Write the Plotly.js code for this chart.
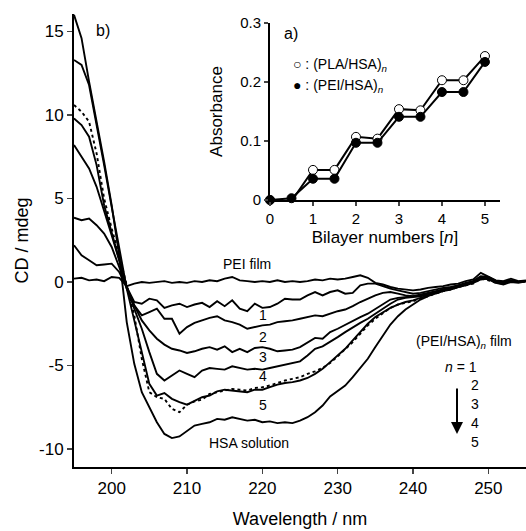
<!DOCTYPE html>
<html>
<head>
<meta charset="utf-8">
<script src="https://cdn.plot.ly/plotly-3.0.1.min.js"></script>
<style>html,body{margin:0;padding:0;background:#fff;}#chart{width:526px;height:531px;}</style>
</head>
<body>
<div id="chart"></div>
<script>
// ---- Main CD spectra (b) ----
const wavelength = [195,196,197,198,199,200,201,202,203,204,205,206,207,208,209,210,211,212,213,214,215,216,217,218,219,220,221,222,223,224,225,226,227,228,229,230,231,232,233,234,235,236,237,238,239,240,241,242,243,244,245,246,247,248,249,250,251,252,253,254,255];

const cdPEIfilm = [0.2,0.25,0.1,0.15,0.05,0.3,0.25,-0.25,-0.1,0.0,-0.05,0.0,0.05,-0.05,0.0,-0.05,0.05,0.0,0.1,0.05,0.2,0.3,0.1,0.05,0.0,0.05,0.0,0.1,0.0,0.05,0.0,0.05,0.15,0.1,0.2,0.15,0.2,0.3,0.4,0.25,-0.05,-0.15,-0.3,-0.4,-0.45,-0.5,-0.45,-0.35,-0.3,-0.25,-0.15,-0.1,0.05,0.15,0.55,0.3,0.1,0.05,0.2,0.05,0.1];

const cdN1 = [2.2,1.6,1.3,1.0,1.05,1.1,0.6,-0.3,-1.2,-1.3,-1.0,-1.1,-1.55,-1.4,-1.3,-1.5,-1.35,-1.25,-1.5,-1.15,-1.45,-1.1,-1.6,-1.75,-1.3,-1.55,-1.5,-1.3,-1.0,-1.05,-1.05,-0.8,-0.6,-0.8,-0.6,-0.5,-0.7,-0.65,-0.2,-0.1,-0.1,-0.25,-0.4,-0.5,-0.6,-0.7,-0.65,-0.55,-0.45,-0.35,-0.3,-0.2,-0.05,0.05,0.35,0.3,0.05,0.0,0.1,0.0,0.05];

const cdN2 = [3.85,3.7,3.8,3.4,2.9,2.1,0.9,-0.4,-1.4,-2.0,-1.8,-1.6,-2.2,-2.2,-3.1,-2.7,-2.45,-2.3,-2.15,-2.05,-2.3,-2.4,-2.55,-2.8,-2.7,-2.6,-2.55,-2.4,-2.35,-2.3,-2.2,-2.1,-2.0,-2.05,-1.9,-1.75,-1.65,-1.45,-1.2,-1.0,-0.8,-0.65,-0.6,-0.7,-0.8,-0.85,-0.75,-0.65,-0.55,-0.45,-0.35,-0.2,-0.1,0.05,0.3,0.25,0.05,-0.05,0.05,0.0,0.05];

const cdN3 = [8.2,7.5,6.8,5.7,4.3,2.8,1.3,-0.3,-1.4,-2.3,-2.9,-3.4,-3.75,-4.0,-4.1,-4.25,-4.15,-4.0,-3.9,-4.05,-3.85,-4.2,-4.0,-4.2,-3.95,-3.9,-4.0,-4.15,-4.1,-4.05,-3.9,-3.6,-3.35,-3.4,-3.0,-2.8,-2.55,-2.35,-2.1,-1.9,-1.6,-1.3,-1.05,-0.95,-0.9,-0.85,-0.8,-0.7,-0.6,-0.45,-0.35,-0.25,-0.1,0.0,0.25,0.2,0.05,-0.05,0.05,0.0,0.05];

const cdN4 = [9.8,9.4,8.7,7.0,4.6,3.0,1.4,-0.3,-1.6,-2.8,-4.2,-5.5,-5.9,-5.6,-5.3,-5.5,-5.7,-5.3,-5.15,-5.2,-5.25,-5.05,-5.15,-5.25,-5.2,-5.25,-5.15,-5.05,-4.95,-4.85,-4.75,-4.4,-4.0,-3.85,-3.6,-3.3,-3.0,-2.7,-2.45,-2.2,-1.9,-1.55,-1.3,-1.05,-0.95,-0.9,-0.85,-0.75,-0.6,-0.5,-0.4,-0.3,-0.15,0.0,0.25,0.2,0.0,-0.1,0.05,0.0,0.05];

const cdN5 = [13.3,13.0,11.8,9.5,7.0,4.5,2.0,-0.4,-2.3,-4.2,-6.1,-6.8,-6.65,-7.0,-7.2,-7.35,-7.1,-6.9,-6.8,-6.55,-6.45,-6.5,-6.55,-6.6,-6.45,-6.45,-6.3,-6.15,-6.05,-6.0,-5.9,-5.75,-5.5,-5.2,-4.8,-4.4,-4.0,-3.5,-3.0,-2.5,-2.1,-1.8,-1.55,-1.35,-1.2,-1.1,-0.95,-0.8,-0.7,-0.55,-0.45,-0.3,-0.2,-0.05,0.3,0.15,-0.05,-0.15,0.0,-0.05,0.05];

const cdDotted = [10.6,10.2,9.6,7.7,5.0,3.2,1.6,-0.2,-2.0,-4.6,-6.6,-6.9,-7.0,-7.6,-7.8,-7.35,-7.15,-7.05,-6.7,-6.6,-6.5,-6.4,-6.45,-6.5,-6.35,-6.3,-6.2,-6.05,-5.9,-5.8,-5.7,-5.5,-5.35,-5.15,-4.85,-4.45,-4.05,-3.6,-3.1,-2.6,-2.2,-1.85,-1.55,-1.35,-1.25,-1.15,-1.0,-0.85,-0.7,-0.55,-0.45,-0.3,-0.2,-0.1,0.2,0.1,-0.05,-0.1,0.0,0.0,0.05];

const cdHSAsol = [16.0,14.6,12.0,9.7,7.2,4.6,1.6,-2.4,-4.9,-6.6,-7.5,-8.4,-9.1,-9.35,-9.25,-8.9,-8.6,-8.5,-8.4,-8.2,-8.25,-8.1,-8.2,-8.3,-8.25,-8.4,-8.35,-8.45,-8.4,-8.45,-8.3,-8.1,-7.8,-7.4,-6.85,-6.5,-6.2,-5.7,-5.15,-4.6,-3.9,-3.2,-2.55,-2.05,-1.65,-1.35,-1.05,-0.85,-0.65,-0.45,-0.35,-0.25,-0.1,-0.05,0.15,0.2,0.0,-0.05,0.05,0.0,0.05];

// ---- Inset absorbance (a) ----
const bilayer = [0,0.5,1,1.5,2,2.5,3,3.5,4,4.5,5];
const absPLA = [0,-0.002,0.051,0.051,0.107,0.104,0.154,0.152,0.203,0.203,0.244];
const absPEI = [0,0.003,0.036,0.036,0.097,0.097,0.141,0.141,0.183,0.183,0.234];

const xTicksMain = [200,210,220,230,240,250];
const yTicksMain = [-10,-5,0,5,10,15];
const yTickTextMain = ['-10','-5','0','5','10','15'];
const xTicksInset = [0,1,2,3,4,5];
const yTicksInset = [0,0.1,0.2,0.3];
const yTickTextInset = ['0','0.1','0.2','0.3'];

const FONT = 'Arial, "Liberation Sans", Helvetica, sans-serif';
const W = 526, H = 531, ML = 74, MR = 0, MT = 14, MB = 64;
const pw = W - ML - MR, ph = H - MT - MB;
const px = x => (x - ML) / pw;
const py = y => (H - MB - y) / ph;

const cdLine = {color:'#000', width:1.9};
const traces = [
  {x: wavelength, y: cdPEIfilm, mode:'lines', line: cdLine, xaxis:'x', yaxis:'y'},
  {x: wavelength, y: cdN1, mode:'lines', line: cdLine, xaxis:'x', yaxis:'y'},
  {x: wavelength, y: cdN2, mode:'lines', line: cdLine, xaxis:'x', yaxis:'y'},
  {x: wavelength, y: cdN3, mode:'lines', line: cdLine, xaxis:'x', yaxis:'y'},
  {x: wavelength, y: cdN4, mode:'lines', line: cdLine, xaxis:'x', yaxis:'y'},
  {x: wavelength, y: cdN5, mode:'lines', line: cdLine, xaxis:'x', yaxis:'y'},
  {x: wavelength, y: cdDotted, mode:'lines', line: {color:'#000', width:1.9, dash:'dot'}, xaxis:'x', yaxis:'y'},
  {x: wavelength, y: cdHSAsol, mode:'lines', line: cdLine, xaxis:'x', yaxis:'y'},
  {x: bilayer, y: absPLA, mode:'lines+markers', line:{color:'#000', width:2},
   marker:{symbol:'circle', size:9, color:'#fff', line:{color:'#000', width:1}}, xaxis:'x2', yaxis:'y2', cliponaxis:false},
  {x: bilayer, y: absPEI, mode:'lines+markers', line:{color:'#000', width:2},
   marker:{symbol:'circle', size:9, color:'#000', line:{color:'#000', width:1}}, xaxis:'x2', yaxis:'y2', cliponaxis:false}
];

const ann = (x, y, text, size, opts) => Object.assign({xref:'paper', yref:'paper', x:px(x), y:py(y), text:text, showarrow:false,
  font:{family:FONT, size:size, color:'#000'}, xanchor:'center', yanchor:'middle'}, opts || {});

const annotations = [
  ann(103, 31, 'b)', 16),
  ann(291, 33, 'a)', 16),
  ann(291, 65, '○ : (PLA/HSA)<sub><i>n</i></sub>', 14, {xanchor:'left'}),
  ann(291, 86, '● : (PEI/HSA)<sub><i>n</i></sub>', 14, {xanchor:'left'}),
  ann(247, 264, 'PEI film', 14),
  ann(263, 315, '1', 14),
  ann(263, 337, '2', 14),
  ann(263, 357, '3', 14),
  ann(263, 376, '4', 14),
  ann(263, 405, '5', 14),
  ann(249, 443, 'HSA solution', 14),
  ann(464, 342, '(PEI/HSA)<sub><i>n</i></sub> film', 14),
  ann(461, 367, '<i>n</i> = 1', 14),
  ann(475, 385, '2', 14),
  ann(475, 404, '3', 14),
  ann(475, 423, '4', 14),
  ann(475, 442, '5', 14),
  {xref:'paper', yref:'paper', x:px(457), y:py(434), ax:0, ay:-54, text:' ', showarrow:true,
   arrowhead:2, arrowsize:1.2, arrowwidth:2, arrowcolor:'#000'}
];

const layout = {
  width: W, height: H,
  margin: {l:ML, r:MR, t:MT, b:MB, pad:0},
  paper_bgcolor:'#fff', plot_bgcolor:'rgba(0,0,0,0)',
  showlegend:false,
  font:{family:FONT, color:'#000'},
  xaxis: {domain:[0,1], range:[195,255], tickvals:xTicksMain, ticks:'outside', ticklen:5, tickwidth:1.5,
    showline:true, linewidth:2, linecolor:'#000', showgrid:false, zeroline:false, mirror:false,
    tickfont:{family:FONT, size:17}, title:{text:'Wavelength / nm', font:{family:FONT, size:18}, standoff:15}},
  yaxis: {domain:[0,1], range:[-11.08,16.05], tickvals:yTicksMain, ticktext:yTickTextMain, ticks:'outside', ticklen:5, tickwidth:1.5,
    showline:true, linewidth:2, linecolor:'#000', showgrid:false, zeroline:false,
    tickfont:{family:FONT, size:17}, title:{text:'CD / mdeg', font:{family:FONT, size:18}, standoff:6}},
  xaxis2: {domain:[px(270), px(500)], range:[0,5.35], anchor:'y2', tickvals:xTicksInset, ticks:'outside', ticklen:4, tickwidth:1.5,
    showline:true, linewidth:2, linecolor:'#000', showgrid:false, zeroline:false,
    tickfont:{family:FONT, size:15}, title:{text:'Bilayer numbers [<i>n</i>]', font:{family:FONT, size:17}, standoff:5}},
  yaxis2: {domain:[py(200), py(23)], range:[0,0.3], anchor:'x2', tickvals:yTicksInset, ticktext:yTickTextInset, ticks:'outside', ticklen:4, tickwidth:1.5,
    showline:true, linewidth:2, linecolor:'#000', showgrid:false, zeroline:false,
    tickfont:{family:FONT, size:15}, title:{text:'Absorbance', font:{family:FONT, size:17}, standoff:13}},
  annotations: annotations
};

Plotly.newPlot('chart', traces, layout, {displayModeBar:false, staticPlot:true});
</script>
</body>
</html>
